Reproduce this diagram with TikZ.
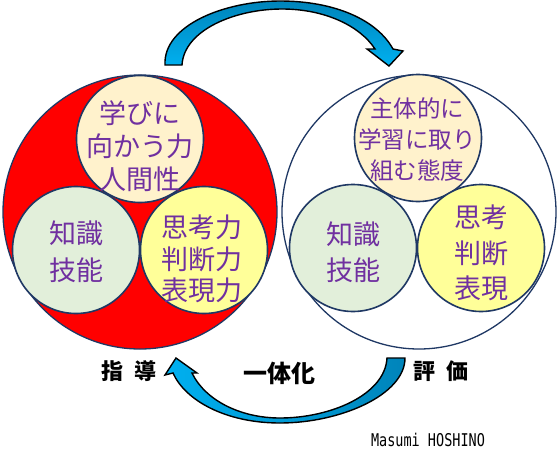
\documentclass[tikz,border=0pt]{standalone}
\usepackage{fontspec}
\setmainfont{Noto Sans CJK JP}
\newfontfamily\monofont{DejaVu Sans Mono}
\usetikzlibrary{shadings}
\definecolor{navy}{HTML}{1F3864}
\definecolor{txtpurple}{HTML}{7030A0}
\definecolor{cream}{HTML}{FFF2CC}
\definecolor{lgreen}{HTML}{E2EFDA}
\definecolor{lyellow}{HTML}{FFFF99}
\definecolor{arrdark}{HTML}{0084BA}
\definecolor{arrlight}{HTML}{00B0F0}
\tikzset{
  bigc/.style={circle, draw=navy, line width=1.3pt, minimum size=274pt, inner sep=0pt},
  smallc/.style={circle, draw=navy, line width=1.6pt, minimum size=127pt, inner sep=0pt},
  ctext/.style={text=txtpurple, align=center, inner sep=0pt},
  lbl/.style={font=\bfseries\fontsize{22}{26}\selectfont, inner sep=0pt},
  arrowband/.style={draw=black, line width=1.4pt, line join=miter},
}
\begin{document}
\begin{tikzpicture}[x=1pt,y=-1pt]
\useasboundingbox (0,0) rectangle (558,459);
% top arrow
\path[arrowband, left color=arrdark, right color=arrlight, shading angle=0]
  (165,65) .. controls (163,25) and (225,1) .. (280,1)
  .. controls (335,1) and (377,20) .. (393,49)
  -- (403,51) -- (389,66) -- (367,49) -- (375,49)
  .. controls (360,26) and (325,9) .. (282,9)
  .. controls (235,9) and (184,30) .. (182,65) -- cycle;
% bottom arrow
\path[arrowband, left color=arrlight, right color=arrdark]
  (405,358) .. controls (405,395) and (340,423) .. (280,423)
  .. controls (225,423) and (185,400) .. (173,373)
  -- (165,375) -- (176,358) -- (197,373) -- (192,373)
  .. controls (205,400) and (240,418) .. (280,418)
  .. controls (330,418) and (385,395) .. (387,358) -- cycle;
% left diagram
\node[bigc, fill=red] (L) at (140,212) {};
\node[smallc, fill=cream] (Lt) at (140,139) {};
\node[smallc, fill=lgreen] (Ll) at (76,250) {};
\node[smallc, fill=lyellow] (Lr) at (204,250) {};
\node[ctext, font=\fontsize{27}{33}\selectfont] (Ltt) at (140,146) {学びに\\向かう力\\人間性};
\node[ctext, font=\fontsize{27}{37}\selectfont] (Llt) at (76,252) {知識\\技能};
\node[ctext, font=\fontsize{27}{31.5}\selectfont] (Lrt) at (202,259) {思考力\\判断力\\表現力};
% right diagram
\node[bigc, fill=white] (R) at (419,212) {};
\node[smallc, fill=cream] (Rt) at (418,138) {};
\node[smallc, fill=lgreen] (Rl) at (353,248) {};
\node[smallc, fill=lyellow] (Rr) at (481,248) {};
\node[ctext, font=\fontsize{23.5}{31}\selectfont] (Rtt) at (417,140) {主体的に\\学習に取り\\組む態度};
\node[ctext, font=\fontsize{27}{36}\selectfont] (Rlt) at (353,252) {知識\\技能};
\node[ctext, font=\fontsize{27}{35.5}\selectfont] (Rrt) at (481,253) {思考\\判断\\表現};
% labels
\node[lbl] (shido) at (129,371) {指\hspace{0.5em}導};
\node[lbl] (hyoka) at (441,371) {評\hspace{0.5em}価};
\node[lbl, font=\bfseries\fontsize{24}{28}\selectfont] (ittai) at (279,373) {一体化};
\node[inner sep=0pt] (author) at (428,440) {\scalebox{1}[1.3]{\monofont\fontsize{13.5}{15}\selectfont Masumi HOSHINO}};
\end{tikzpicture}
\end{document}
